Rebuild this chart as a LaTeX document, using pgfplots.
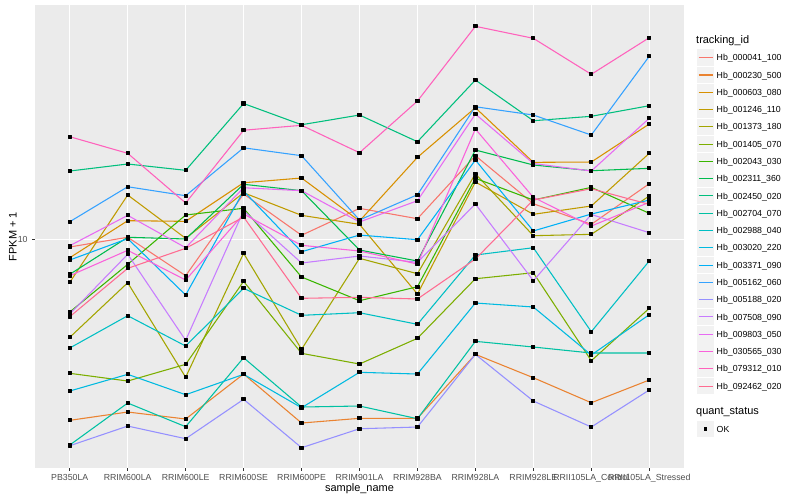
\documentclass[border=0pt]{standalone}
\usepackage{fontspec}
\setmainfont{Liberation Sans}
\usepackage{pgfplots}
\usepackage{pgfplotstable}
\pgfplotsset{compat=1.18}

\definecolor{panelbg}{HTML}{EBEBEB}
\definecolor{keybg}{HTML}{F2F2F2}
\definecolor{grey30}{HTML}{4D4D4D}
\definecolor{grey20}{HTML}{333333}
% ggplot hue palette, 20 levels
\definecolor{gga}{HTML}{F8766D}
\definecolor{ggb}{HTML}{EA8331}
\definecolor{ggc}{HTML}{D89000}
\definecolor{ggd}{HTML}{C09B00}
\definecolor{gge}{HTML}{A3A500}
\definecolor{ggf}{HTML}{7CAE00}
\definecolor{ggg}{HTML}{39B600}
\definecolor{ggh}{HTML}{00BB4E}
\definecolor{ggi}{HTML}{00BF7D}
\definecolor{ggj}{HTML}{00C1A3}
\definecolor{ggk}{HTML}{00BFC4}
\definecolor{ggl}{HTML}{00BAE0}
\definecolor{ggm}{HTML}{00B0F6}
\definecolor{ggn}{HTML}{35A2FF}
\definecolor{ggo}{HTML}{9590FF}
\definecolor{ggp}{HTML}{C77CFF}
\definecolor{ggq}{HTML}{E76BF3}
\definecolor{ggr}{HTML}{FA62DB}
\definecolor{ggs}{HTML}{FF62BC}
\definecolor{ggt}{HTML}{FF6C91}

% FPKM + 1, one row per sample, one column per tracking_id
\pgfplotstableread{
idx a     b     c     d     e     f     g     h     i     j     k     l     m     n     o     p     q     r     s     t
1   9.32  1.888 8.441 6.729 4.055 2.911 5.119 7.244 18.76 1.504 3.675 2.473 8.264 11.76 1.494 5.026 9.428 7.152 25.73 4.903
2   10.19 2.038 11.87 15.04 6.705 2.711 7.943 10.19 20.01 2.214 4.948 2.884 10.06 16.23 1.791 8.710 12.47 9.036 22.08 7.656
3   7.152 1.911 11.80 10.09 2.806 3.162 12.51 10.03 18.88 1.780 3.743 2.390 5.987 14.94 1.594 3.945 9.256 6.874 13.97 9.204
4   15.18 2.892 16.84 15.36 8.790 6.792 13.31 16.60 34.93 3.361 6.368 2.884 15.60 23.23 2.291 13.01 16.08 12.62 27.31 12.28
5   10.38 1.842 17.59 12.47 3.631 3.499 7.067 15.65 28.73 2.134 4.966 2.120 8.920 21.60 1.467 8.039 15.65 9.462 28.58 5.807
6   13.30 1.923 11.84 11.48 8.394 3.171 5.681 9.061 31.42 2.154 5.086 2.938 10.40 11.95 1.747 8.574 11.73 8.979 22.20 5.862
7   12.09 1.923 21.28 6.042 7.285 4.018 6.463 8.189 24.57 1.916 4.571 2.892 9.963 15.08 1.775 8.091 14.27 7.965 35.74 5.772
8   21.60 3.467 33.61 16.95 18.30 6.956 17.54 22.76 43.37 3.908 8.654 5.562 20.76 33.91 3.467 13.84 31.71 27.62 71.12 8.341
9   13.88 2.795 20.32 12.59 10.34 7.352 14.36 19.83 29.81 3.709 9.256 5.361 10.80 31.42 2.255 6.830 20.10 14.72 63.68 14.36
10  11.48 2.220 20.38 13.59 10.47 3.269 16.14 18.81 31.05 3.509 4.270 3.445 12.62 26.13 1.775 12.57 18.76 11.30 45.71 15.94
11  16.69 2.736 28.92 22.08 14.90 5.296 12.71 19.23 34.23 3.509 8.189 4.994 14.36 53.95 2.496 10.63 30.48 14.06 64.03 13.80
}\fpkm

\begin{document}
\begin{tikzpicture}
\useasboundingbox (0,0) rectangle (800bp,500bp);
\begin{axis}[
  at={(35bp,32bp)}, anchor=south west,
  scale only axis, width=649bp, height=463bp,
  ymode=log, ymin=1.217, ymax=86.55,
  xmin=0.4, xmax=11.6,
  xtick={1,...,11},
  xticklabels={PB350LA,RRIM600LA,RRIM600LE,RRIM600SE,RRIM600PE,RRIM901LA,RRIM928BA,RRIM928LA,RRIM928LE,RRII105LA\_Control,RRII105LA\_Stressed},
  ytick={10}, yticklabels={10},
  yminorticks=false, xminorticks=false,
  xtick pos=bottom, ytick pos=left,
  axis background/.style={fill=panelbg},
  axis line style={draw=none},
  tick align=outside, major tick length=2.75bp,
  tick style={grey20, line width=1.07bp},
  grid=major, grid style={white, line width=1.07bp},
  ticklabel style={font=\fontsize{8.8}{10}\selectfont, text=grey30, inner sep=0pt},
  xticklabel style={anchor=base, yshift=-9.5bp},
  yticklabel style={anchor=east, xshift=-4.5bp},
  /pgf/number format/assume math mode=true,
  xlabel={sample\_name}, ylabel={FPKM + 1},
  label style={font=\fontsize{11}{13}\selectfont, inner sep=0pt},
  xlabel style={at={(axis description cs:0.5,-0.0501)}, anchor=base},
  ylabel style={at={(axis description cs:-0.0285,0.5)}, anchor=base},
  legend style={at={(1.0200,0.9048)}, anchor=north west, draw=none, fill=none,
    inner sep=0pt, outer sep=0pt, row sep=0pt, column sep=0pt,
    nodes={inner sep=0pt, text height=6.3bp, text depth=0bp, font=\fontsize{8.8}{10}\selectfont}},
  legend cell align=left,
  legend image code/.code={
    \path[draw=none, fill=keybg] (0.3bp,-8.34bp) rectangle (16.98bp,8.34bp);
    \draw[#1, line width=1.07bp] (1.73bp,0bp) -- (15.55bp,0bp);
    \path[draw=none, fill=none] (0bp,-8.64bp) rectangle (19.7bp,8.64bp);
  },
  every axis plot/.append style={line width=1.07bp, line join=round},
]
\addplot[color=gga] table[x=idx, y=a] {\fpkm}; \addlegendentry{Hb\_000041\_100}
\addplot[color=ggb] table[x=idx, y=b] {\fpkm}; \addlegendentry{Hb\_000230\_500}
\addplot[color=ggc] table[x=idx, y=c] {\fpkm}; \addlegendentry{Hb\_000603\_080}
\addplot[color=ggd] table[x=idx, y=d] {\fpkm}; \addlegendentry{Hb\_001246\_110}
\addplot[color=gge] table[x=idx, y=e] {\fpkm}; \addlegendentry{Hb\_001373\_180}
\addplot[color=ggf] table[x=idx, y=f] {\fpkm}; \addlegendentry{Hb\_001405\_070}
\addplot[color=ggg] table[x=idx, y=g] {\fpkm}; \addlegendentry{Hb\_002043\_030}
\addplot[color=ggh] table[x=idx, y=h] {\fpkm}; \addlegendentry{Hb\_002311\_360}
\addplot[color=ggi] table[x=idx, y=i] {\fpkm}; \addlegendentry{Hb\_002450\_020}
\addplot[color=ggj] table[x=idx, y=j] {\fpkm}; \addlegendentry{Hb\_002704\_070}
\addplot[color=ggk] table[x=idx, y=k] {\fpkm}; \addlegendentry{Hb\_002988\_040}
\addplot[color=ggl] table[x=idx, y=l] {\fpkm}; \addlegendentry{Hb\_003020\_220}
\addplot[color=ggm] table[x=idx, y=m] {\fpkm}; \addlegendentry{Hb\_003371\_090}
\addplot[color=ggn] table[x=idx, y=n] {\fpkm}; \addlegendentry{Hb\_005162\_060}
\addplot[color=ggo] table[x=idx, y=o] {\fpkm}; \addlegendentry{Hb\_005188\_020}
\addplot[color=ggp] table[x=idx, y=p] {\fpkm}; \addlegendentry{Hb\_007508\_090}
\addplot[color=ggq] table[x=idx, y=q] {\fpkm}; \addlegendentry{Hb\_009803\_050}
\addplot[color=ggr] table[x=idx, y=r] {\fpkm}; \addlegendentry{Hb\_030565\_030}
\addplot[color=ggs] table[x=idx, y=s] {\fpkm}; \addlegendentry{Hb\_079312\_010}
\addplot[color=ggt] table[x=idx, y=t] {\fpkm}; \addlegendentry{Hb\_092462\_020}
% points on top of the lines
\pgfplotsinvokeforeach{a,b,c,d,e,f,g,h,i,j,k,l,m,n,o,p,q,r,s,t}{
  \addplot[only marks, mark=square*, mark size=1.6bp, black, forget plot] table[x=idx, y=#1] {\fpkm};
}
\addlegendimage{legend image code/.code={
    \path[draw=none, fill=keybg] (0.3bp,-8.34bp) rectangle (16.98bp,8.34bp);
    \path[draw=none, fill=black] (7.0bp,-1.65bp) rectangle (10.3bp,1.65bp);
    \path[draw=none, fill=none] (0bp,-8.64bp) rectangle (19.7bp,34.3bp);
  }}
\addlegendentry{OK}
\end{axis}
\node[anchor=base west, inner sep=0pt, font=\fontsize{11}{13}\selectfont] at (696bp,456bp) {tracking\_id};
\node[anchor=base west, inner sep=0pt, font=\fontsize{11}{13}\selectfont] at (696bp,85.5bp) {quant\_status};
\end{tikzpicture}
\end{document}
